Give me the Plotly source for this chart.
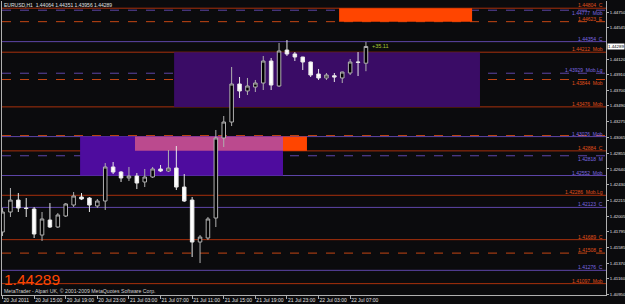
import plotly.graph_objects as go
import pandas as pd

# ---------------- data (EURUSD H1) ----------------
times = pd.date_range("2011-07-20 11:00", periods=47, freq="h")
opens = [1.41792, 1.42061, 1.42222, 1.42115, 1.42101, 1.41751, 1.41953, 1.41859, 1.42007, 1.42155,
         1.42263, 1.42249, 1.42142, 1.42209, 1.42667, 1.42599, 1.42519, 1.42545, 1.42465, 1.42532,
         1.42640, 1.42613, 1.42653, 1.42397, 1.42222, 1.41657, 1.41711, 1.41980, 1.43057, 1.43272,
         1.43784, 1.43690, 1.43743, 1.43797, 1.44093, 1.43757, 1.44241, 1.44188, 1.44147, 1.44080,
         1.43918, 1.43865, 1.43895, 1.43865, 1.43932, 1.44080, 1.44064]
highs = [1.42115, 1.42384, 1.42317, 1.42249, 1.42128, 1.42061, 1.42182, 1.42047, 1.42182, 1.42330,
         1.42317, 1.42263, 1.42236, 1.42720, 1.42734, 1.42613, 1.42667, 1.42586, 1.42640, 1.42667,
         1.42694, 1.42895, 1.42949, 1.42572, 1.42263, 1.41751, 1.41994, 1.43165, 1.43353, 1.44013,
         1.43878, 1.43865, 1.43838, 1.44161, 1.44134, 1.44336, 1.44376, 1.44214, 1.44150, 1.44085,
         1.43986, 1.43932, 1.43932, 1.43950, 1.44120, 1.44214, 1.44351]
lows = [1.41738, 1.41994, 1.42061, 1.41994, 1.41711, 1.41671, 1.41846, 1.41846, 1.41994, 1.42128,
        1.42222, 1.42061, 1.42115, 1.42088, 1.42572, 1.42465, 1.42478, 1.42370, 1.42397, 1.42519,
        1.42599, 1.42599, 1.42357, 1.42196, 1.41455, 1.41374, 1.41684, 1.41859, 1.42936, 1.43218,
        1.43595, 1.43636, 1.43676, 1.43703, 1.43703, 1.43743, 1.44161, 1.44093, 1.43972, 1.43878,
        1.43838, 1.43838, 1.43811, 1.43797, 1.43905, 1.43891, 1.43956]
closes = [1.42061, 1.42222, 1.42115, 1.42108, 1.41765, 1.41967, 1.41859, 1.42021, 1.42169, 1.42276,
          1.42236, 1.42155, 1.42209, 1.42667, 1.42599, 1.42519, 1.42545, 1.42451, 1.42532, 1.42640,
          1.42613, 1.42653, 1.42397, 1.42209, 1.41657, 1.41724, 1.41967, 1.43057, 1.43272, 1.43784,
          1.43690, 1.43757, 1.43797, 1.44093, 1.43770, 1.44228, 1.44188, 1.44147, 1.44080, 1.43905,
          1.43865, 1.43905, 1.43878, 1.43945, 1.44080, 1.44075, 1.44289]

# zones (rectangles)
zone_start = ["2011-07-22 05:36", "2011-07-21 08:43", "2011-07-20 20:49", "2011-07-21 03:46", "2011-07-21 22:30"]
zone_end = ["2011-07-22 22:26", "2011-07-22 23:26", "2011-07-21 22:30", "2011-07-21 22:30", "2011-07-22 01:32"]
zone_low = [1.44623, 1.43476, 1.42552, 1.42884, 1.42884]
zone_high = [1.44804, 1.44212, 1.43076, 1.43076, 1.43076]
zone_colors = ["#FF4500", "#3a0c66", "#4e0c9e", "#bb4a8e", "#FF4500"]

# horizontal levels
levels = [1.44804, 1.44777, 1.44623, 1.44354, 1.44212, 1.43929, 1.43844, 1.43476, 1.43090, 1.43076,
          1.42884, 1.42818, 1.42552, 1.42286, 1.42123, 1.41689, 1.41508, 1.41276, 1.41097]
level_tags = ["C", "Mob", "E", "C", "Mob", "Mob.Lg", "Mob", "Mob", "", "Mob",
              "C", "M", "Mob", "Mob.Lg", "C", "C", "E", "C", "Mob"]
level_kinds = ["o", "pd", "od", "p", "o", "pd", "od", "o", "od", "p",
               "o", "pd", "p", "o", "p", "o", "od", "p", "o"]
label_below = [False, True, False, False, False, False, True, False, False, False,
               False, True, False, False, False, False, False, False, False]

ytick_vals = [1.40950, 1.41160, 1.41370, 1.41585, 1.41795, 1.42005, 1.42215, 1.42430, 1.42640,
              1.42855, 1.43065, 1.43275, 1.43490, 1.43700, 1.43910, 1.44120, 1.44545, 1.44750]
xtick_text = ["20 Jul 2011", "20 Jul 15:00", "20 Jul 19:00", "20 Jul 23:00", "21 Jul 03:00",
              "21 Jul 07:00", "21 Jul 11:00", "21 Jul 15:00", "21 Jul 19:00", "21 Jul 23:00",
              "22 Jul 03:00", "22 Jul 07:00"]

symbol = "EURUSD,H1"
last_price = closes[-1]
pips_label = "+35.11"
copyright_text = "MetaTrader - Alpari UK, \u00a9 2001-2009 MetaQuotes Software Corp."

# ---------------- styles ----------------
BG = "#0b0b0d"
FONT = "Liberation Sans"
kind_style = {
    "o": dict(color="#a8300c", dash="solid", label="#e0501a"),
    "od": dict(color="#c44614", dash="dash", label="#e0501a"),
    "p": dict(color="#5e46a8", dash="solid", label="#7c68e0"),
    "pd": dict(color="#5e46a8", dash="dash", label="#7c68e0"),
}

fig = go.Figure()
fig.add_trace(go.Candlestick(
    x=times, open=opens, high=highs, low=lows, close=closes,
    increasing=dict(fillcolor="#000000", line=dict(color="#b0b0b0", width=1)),
    decreasing=dict(fillcolor="#ffffff", line=dict(color="#e8e8e8", width=1)),
    whiskerwidth=0, showlegend=False, hoverinfo="skip",
))

shapes = []
for xs, xe, lo, hi, c in zip(zone_start, zone_end, zone_low, zone_high, zone_colors):
    shapes.append(dict(type="rect", xref="x", yref="y", x0=xs, x1=xe, y0=lo, y1=hi,
                       fillcolor=c, line=dict(width=0), layer="below"))

annotations = []
for lv, tag, kind, below in zip(levels, level_tags, level_kinds, label_below):
    st = kind_style[kind]
    shapes.append(dict(type="line", xref="paper", yref="y", x0=0, x1=1, y0=lv, y1=lv,
                       line=dict(color=st["color"], width=1, dash=st["dash"]), layer="below"))
    if tag:
        annotations.append(dict(xref="paper", yref="y", x=0.997, y=lv, xanchor="right",
                                yanchor="top" if below else "bottom",
                                text=f"{lv:.5f}&nbsp;&nbsp;{tag}", showarrow=False,
                                font=dict(family=FONT, size=5, color=st["label"]),
                                borderpad=0, yshift=1 if below else -1))

# title OHLC
annotations.append(dict(xref="paper", yref="paper", x=0.002, y=1, xanchor="left", yanchor="top",
                        text=f"{symbol}&nbsp;&nbsp;{opens[-1]:.5f} {highs[-1]:.5f} {lows[-1]:.5f} {closes[-1]:.5f}",
                        showarrow=False, font=dict(family=FONT, size=5, color="#e0e0e0"), borderpad=0))
# current price tag
annotations.append(dict(xref="paper", yref="y", x=1, y=last_price, xanchor="left", yanchor="middle",
                        text=f"{last_price:.5f}", showarrow=False, bgcolor="#ffffff",
                        font=dict(family=FONT, size=4.4, color="#000000"), borderpad=0, xshift=1))
# pips label
annotations.append(dict(xref="x", yref="y", x=times[-1] + pd.Timedelta(minutes=40), y=last_price,
                        xanchor="left", yanchor="middle", text=pips_label, showarrow=False,
                        font=dict(family=FONT, size=5.5, color="#a8c832"), borderpad=0))
# big price
annotations.append(dict(xref="paper", yref="paper", x=0.002, y=0.022, xanchor="left", yanchor="bottom",
                        text=f"{last_price:.5f}", showarrow=False,
                        font=dict(family=FONT, size=15.5, color="#FF4500"), borderpad=0))
annotations.append(dict(xref="paper", yref="paper", x=0.002, y=0.0, xanchor="left", yanchor="bottom",
                        text=copyright_text, showarrow=False,
                        font=dict(family=FONT, size=5.2, color="#d0d0d0"), borderpad=0))

fig.update_layout(
    width=625, height=304,
    margin=dict(l=2, r=19, t=1, b=9, autoexpand=False),
    paper_bgcolor=BG, plot_bgcolor=BG,
    shapes=shapes, annotations=annotations,
    boxgap=0.36,
    xaxis=dict(
        type="date", range=["2011-07-20 10:56", "2011-07-23 15:23"],
        rangeslider=dict(visible=False), automargin=False,
        showgrid=False, zeroline=False,
        showline=True, linecolor="#b0b0b0", linewidth=1, mirror=False,
        tickmode="array", tickvals=list(times[::4]), ticktext=xtick_text,
        tickangle=0,
        ticks="outside", ticklen=3, tickcolor="#b0b0b0",
        ticklabelposition="outside right",
        tickfont=dict(family=FONT, size=5, color="#e0e0e0"),
    ),
    yaxis=dict(
        side="right", range=[1.40944, 1.44901], automargin=False,
        showgrid=False, zeroline=False,
        showline=True, linecolor="#b0b0b0", linewidth=1, mirror=True,
        tickmode="array", tickvals=ytick_vals, ticktext=[f"{v:.5f}" for v in ytick_vals],
        ticks="outside", ticklen=2, tickcolor="#b0b0b0",
        ticklabelstandoff=0,
        tickfont=dict(family=FONT, size=4.3, color="#e0e0e0"),
    ),
)

fig.write_html("out.html")
